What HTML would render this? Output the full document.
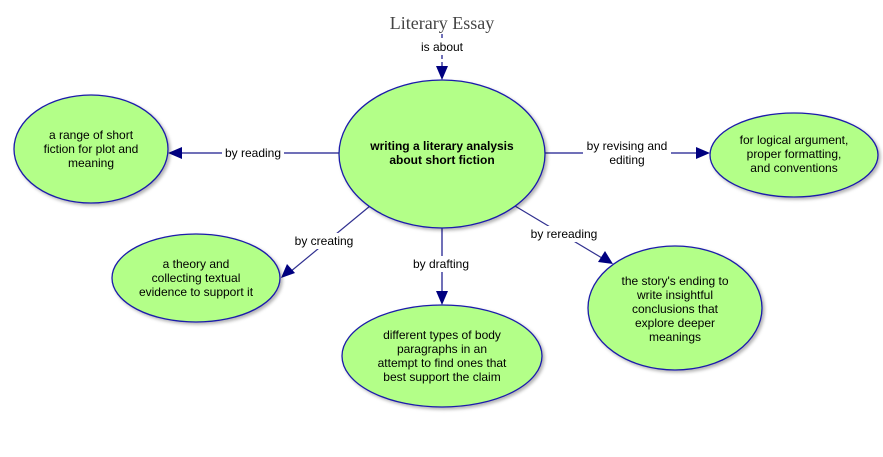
<!DOCTYPE html>
<html><head><meta charset="utf-8"><style>
body{margin:0;background:#fff;}
svg{display:block;font-family:"Liberation Sans",Arial,sans-serif;}
</style></head><body>
<svg width="883" height="457" viewBox="0 0 883 457" xmlns="http://www.w3.org/2000/svg">
<defs>
<filter id="sh" x="-10%" y="-10%" width="130%" height="130%"><feDropShadow dx="2" dy="2" stdDeviation="1.5" flood-color="#000" flood-opacity="0.3"/></filter>
</defs>
<text x="442" y="29" text-anchor="middle" font-family="Liberation Serif,serif" font-size="18" fill="#444">Literary Essay</text>
<line x1="442" y1="34" x2="442" y2="68" stroke="#7070b8" stroke-width="2" stroke-dasharray="4,3"/>
<rect x="416" y="38" width="52" height="16" fill="#fff"/>
<text x="442" y="51" text-anchor="middle" font-size="12">is about</text>
<polygon points="436,66 448,66 442,80" fill="#000080"/>

<g stroke="#7070b8" stroke-width="2">
<line x1="339" y1="153" x2="180" y2="153"/>
<line x1="545" y1="153" x2="698" y2="153"/>
<line x1="442" y1="228" x2="442" y2="292"/>
</g>
<g stroke="#303090" stroke-width="1.2">
<line x1="370" y1="206" x2="290" y2="272"/>
<line x1="515" y1="206" x2="602" y2="258"/>
</g>
<polygon points="168,153 182,147 182,159" fill="#000080"/>
<polygon points="710,153 696,147 696,159" fill="#000080"/>
<polygon points="442,305 436,291 448,291" fill="#000080"/>
<polygon points="281,278 287,264 295,273" fill="#000080"/>
<polygon points="613,264 598,262 605,251" fill="#000080"/>

<rect x="222" y="145" width="62" height="16" fill="#fff"/>
<text x="253" y="157" text-anchor="middle" font-size="12">by reading</text>
<rect x="583" y="138" width="88" height="30" fill="#fff"/>
<text x="627" y="150" text-anchor="middle" font-size="12">by revising and</text>
<text x="627" y="164" text-anchor="middle" font-size="12">editing</text>
<rect x="293" y="233" width="62" height="16" fill="#fff"/>
<text x="324" y="245" text-anchor="middle" font-size="12">by creating</text>
<rect x="410" y="256" width="62" height="16" fill="#fff"/>
<text x="441" y="268" text-anchor="middle" font-size="12">by drafting</text>
<rect x="528" y="226" width="72" height="16" fill="#fff"/>
<text x="564" y="238" text-anchor="middle" font-size="12">by rereading</text>

<g fill="#b3ff88" stroke="#1a1aaa" stroke-width="1.3" filter="url(#sh)">
<ellipse cx="442" cy="154" rx="103" ry="74"/>
<ellipse cx="91" cy="149" rx="77" ry="54"/>
<ellipse cx="794" cy="155" rx="84" ry="42"/>
<ellipse cx="196" cy="278" rx="84" ry="44"/>
<ellipse cx="442" cy="356" rx="100" ry="51"/>
<ellipse cx="675" cy="308" rx="87" ry="62"/>
</g>
<g font-size="12" text-anchor="middle" fill="#000">
<text x="442" y="150" font-weight="bold">writing a literary analysis</text>
<text x="442" y="164" font-weight="bold">about short fiction</text>
<text x="91" y="139">a range of short</text>
<text x="91" y="153">fiction for plot and</text>
<text x="91" y="167">meaning</text>
<text x="794" y="144">for logical argument,</text>
<text x="794" y="158">proper formatting,</text>
<text x="794" y="172">and conventions</text>
<text x="196" y="268">a theory and</text>
<text x="196" y="282">collecting textual</text>
<text x="196" y="296">evidence to support it</text>
<text x="442" y="339">different types of body</text>
<text x="442" y="353">paragraphs in an</text>
<text x="442" y="367">attempt to find ones that</text>
<text x="442" y="381">best support the claim</text>
<text x="675" y="285">the story's ending to</text>
<text x="675" y="299">write insightful</text>
<text x="675" y="313">conclusions that</text>
<text x="675" y="327">explore deeper</text>
<text x="675" y="341">meanings</text>
</g>
</svg>
</body></html>
